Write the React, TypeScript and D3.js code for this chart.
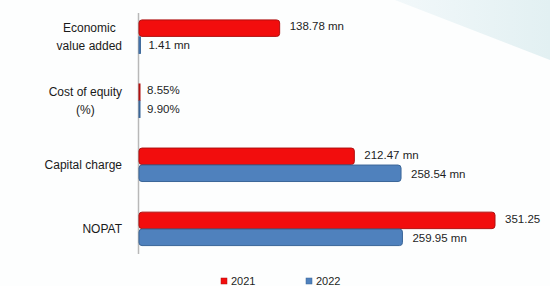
import React from 'react';
import * as d3 from 'd3';

// chart data
const categories = ['Economic value added', 'Cost of equity (%)', 'Capital charge', 'NOPAT'];
const categoryLines = [['Economic', 'value added'], ['Cost of equity', '(%)'], ['Capital charge'], ['NOPAT']];
const series = ['2021', '2022'];
// plotted values (cost of equity is plotted as a fraction, so it is a sliver)
const values2021 = [138.78, 0.0855, 212.47, 351.25];
const values2022 = [1.41, 0.099, 258.54, 259.95];
const labels2021 = ['138.78 mn', '8.55%', '212.47 mn', '351.25'];
const labels2022 = ['1.41 mn', '9.90%', '258.54 mn', '259.95 mn'];

const colors = { '2021': '#f20d0d', '2022': '#4f81bd' };
const strokes = { '2021': '#b01010', '2022': '#3a6698' };

const font = "'Liberation Sans Narrow', 'Arial Narrow', 'Liberation Sans', sans-serif";

let ctx = null;
const textWidth = (s, size) => {
    if (!ctx) ctx = document.createElement('canvas').getContext('2d');
    ctx.font = `${size}px ${font}`;
    return ctx.measureText(s).width;
};

const App = () => {
    const width = 550;
    const height = 286;
    const margin = { t: 13, b: 34, l: 139, r: 0 };
    const catSize = 12;
    const catRight = 122;

    const x = d3.scaleLinear()
        .domain([0, 351.25])
        .range([margin.l, 495]);

    const y0 = d3.scaleBand()
        .domain(categories)
        .range([margin.t, height - margin.b])
        .paddingInner(0.47)
        .paddingOuter(0.1);

    const y1 = d3.scaleBand()
        .domain(series)
        .range([0, y0.bandwidth()]);

    const data = series.map(s => ({
        key: s,
        values: s === '2021' ? values2021 : values2022,
        labels: s === '2021' ? labels2021 : labels2022,
    }));

    const bars = data.map(sr =>
        sr.values.map((v, i) => {
            const yy = y0(categories[i]) + y1(sr.key);
            const w = Math.max(x(v) - x(0), 1);
            return (
                <rect key={sr.key + i} x={x(0)} y={yy + 0.5} width={w} height={y1.bandwidth() - 0.5}
                    rx={w > 6 ? 3 : 0} fill={colors[sr.key]} stroke={strokes[sr.key]} strokeWidth={1} />
            );
        })
    );

    const valueText = data.map(sr =>
        sr.values.map((v, i) => {
            const yy = y0(categories[i]) + y1(sr.key) + y1.bandwidth() / 2 + (sr.key === '2021' ? -1.5 : 0.5);
            return (
                <text key={sr.key + i} x={x(v) + (x(v) - x(0) < 5 ? 8 : 10)} y={yy} dy="0.35em"
                    fontSize={11.5} fill="#1e1e1e" fontFamily={font}>{sr.labels[i]}</text>
            );
        })
    );

    const catText = categories.map((c, i) => {
        const lines = categoryLines[i];
        const cy = y0(c) + y0.bandwidth() / 2;
        const lh = 18;
        const blockW = d3.max(lines, ln => textWidth(ln, catSize));
        const cx = catRight - blockW / 2;
        return (
            <text key={c} textAnchor="middle" fontSize={catSize} fill="#1a1a1a" fontFamily={font}>
                {lines.map((ln, j) => (
                    <tspan key={j} x={cx} y={cy + (j - (lines.length - 1) / 2) * lh} dy="0.35em">{ln}</tspan>
                ))}
            </text>
        );
    });

    const legendX = [221, 306];
    const legend = series.map((s, i) => (
        <g key={s} transform={`translate(${legendX[i]},${281})`}>
            <rect x={0} y={-3} width={6} height={6} fill={colors[s]} stroke={strokes[s]} strokeWidth={0.5} />
            <text x={10} y={0} dy="0.35em" fontSize={11} fill="#1e1e1e" fontFamily={font}>{s}</text>
        </g>
    ));

    return (
        <div style={{ position: 'fixed', left: 0, top: 0 }}>
            <svg width={width} height={height}>
                <defs>
                    <linearGradient id="bg" x1="0" y1="0" x2="1" y2="0">
                        <stop offset="0" stopColor="#f2f8fa" />
                        <stop offset="1" stopColor="#e2f0f2" />
                    </linearGradient>
                </defs>
                <rect x={0} y={0} width={width} height={height} fill="#fdfefe" />
                <polygon points="395,0 550,0 550,60" fill="url(#bg)" />
                <line x1={margin.l - 0.5} x2={margin.l - 0.5} y1={margin.t} y2={height - margin.b + 2}
                    stroke="#b8b8b8" strokeWidth={1.5} />
                <g>{bars}</g>
                <g>{valueText}</g>
                <g>{catText}</g>
                <g>{legend}</g>
            </svg>
        </div>
    );
};

export default App;
